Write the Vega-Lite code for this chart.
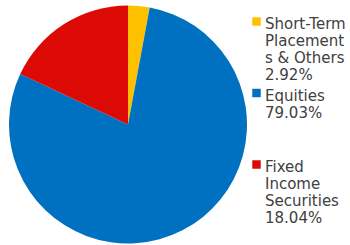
{
  "$schema": "https://vega.github.io/schema/vega-lite/v6.json",
  "width": 256,
  "height": 249,
  "padding": 0,
  "autosize": {"type": "pad"},
  "background": "white",
  "config": {"view": {"stroke": null}},
  "data": {
    "values": [
      {"category": "Short-Term Placements & Others", "share": 2.92, "order": 1},
      {"category": "Equities", "share": 79.03, "order": 2},
      {"category": "Fixed Income Securities", "share": 18.04, "order": 3}
    ]
  },
  "mark": {"type": "arc", "outerRadius": 119},
  "encoding": {
    "theta": {"field": "share", "type": "quantitative", "stack": true},
    "order": {"field": "order", "type": "quantitative"},
    "color": {
      "field": "category",
      "type": "nominal",
      "sort": ["Short-Term Placements & Others", "Equities", "Fixed Income Securities"],
      "scale": {
        "domain": ["Short-Term Placements & Others", "Equities", "Fixed Income Securities"],
        "range": ["#FFC000", "#0070C0", "#DC0A04"]
      },
      "legend": {
        "orient": "none",
        "legendX": 249,
        "legendY": 14,
        "title": null,
        "symbolType": "square",
        "symbolSize": 72,
        "symbolStrokeWidth": 0,
        "labelFont": "DejaVu Sans",
        "labelFontSize": 15,
        "labelColor": "#404040",
        "labelLineHeight": 18.3,
        "labelLimit": 200,
        "labelOffset": 1,
        "labelBaseline": "top",
        "rowPadding": 2.5,
        "encode": {"labels": {"update": {"dy": {"value": -4.5}}}},
        "labelExpr": "datum.label == 'Equities' ? ['Equities', '79.03%', '', ''] : datum.label == 'Fixed Income Securities' ? ['Fixed', 'Income', 'Securities', '18.04%'] : ['Short-Term', 'Placement', 's & Others', '2.92%']"
      }
    }
  }
}
